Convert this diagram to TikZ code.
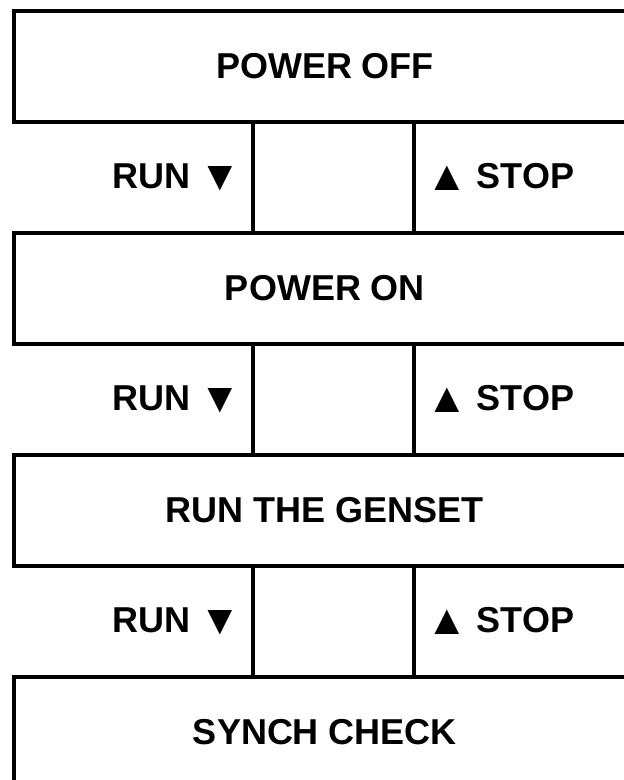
\documentclass[tikz,border=0pt]{standalone}
\usepackage{fontspec}
\setmainfont{Liberation Sans}
\newcommand{\tri}[1]{{\fontsize{42}{42}\selectfont\raisebox{-2pt}{#1}}}
\begin{document}
\begin{tikzpicture}[x=1pt,y=-1pt,
  frame/.style={line width=4pt,line cap=rect},
  title/.style={font=\fontsize{36}{40}\selectfont\bfseries,inner sep=0pt},
  runlbl/.style={font=\fontsize{36}{40}\selectfont\bfseries,inner sep=0pt,anchor=base east},
  stoplbl/.style={font=\fontsize{36}{40}\selectfont\bfseries,inner sep=0pt,anchor=base west}]
\useasboundingbox (0,0) rectangle (624,780);
\clip (0,0) rectangle (624,780);
% state boxes (open to the right)
\foreach \t in {11,233,455}{
  \draw[frame] (640,\t) -- (14,\t) -- (14,\t+111) -- (640,\t+111);
}
\draw[frame] (640,677) -- (14,677) -- (14,800);
% dividers in transition rows
\foreach \t in {122,344,566}{
  \draw[frame] (253,\t) -- (253,\t+111);
  \draw[frame] (414,\t) -- (414,\t+111);
}
\node[title] (s1) at (325,66.5) {POWER OFF};
\node[title] (s2) at (325,288.5) {POWER ON};
\node[title] (s3) at (325,510.5) {RUN THE GENSET};
\node[title] (s4) at (325,732.5) {SYNCH CHECK};
\foreach \y/\n in {188/1,410/2,632/3}{
  \node[runlbl] (run\n) at (241,\y) {RUN\hspace{9pt}\tri{▼}};
  \node[stoplbl] (stop\n) at (426,\y) {\tri{▲}\hspace{9pt}STOP};
}
\end{tikzpicture}
\end{document}
